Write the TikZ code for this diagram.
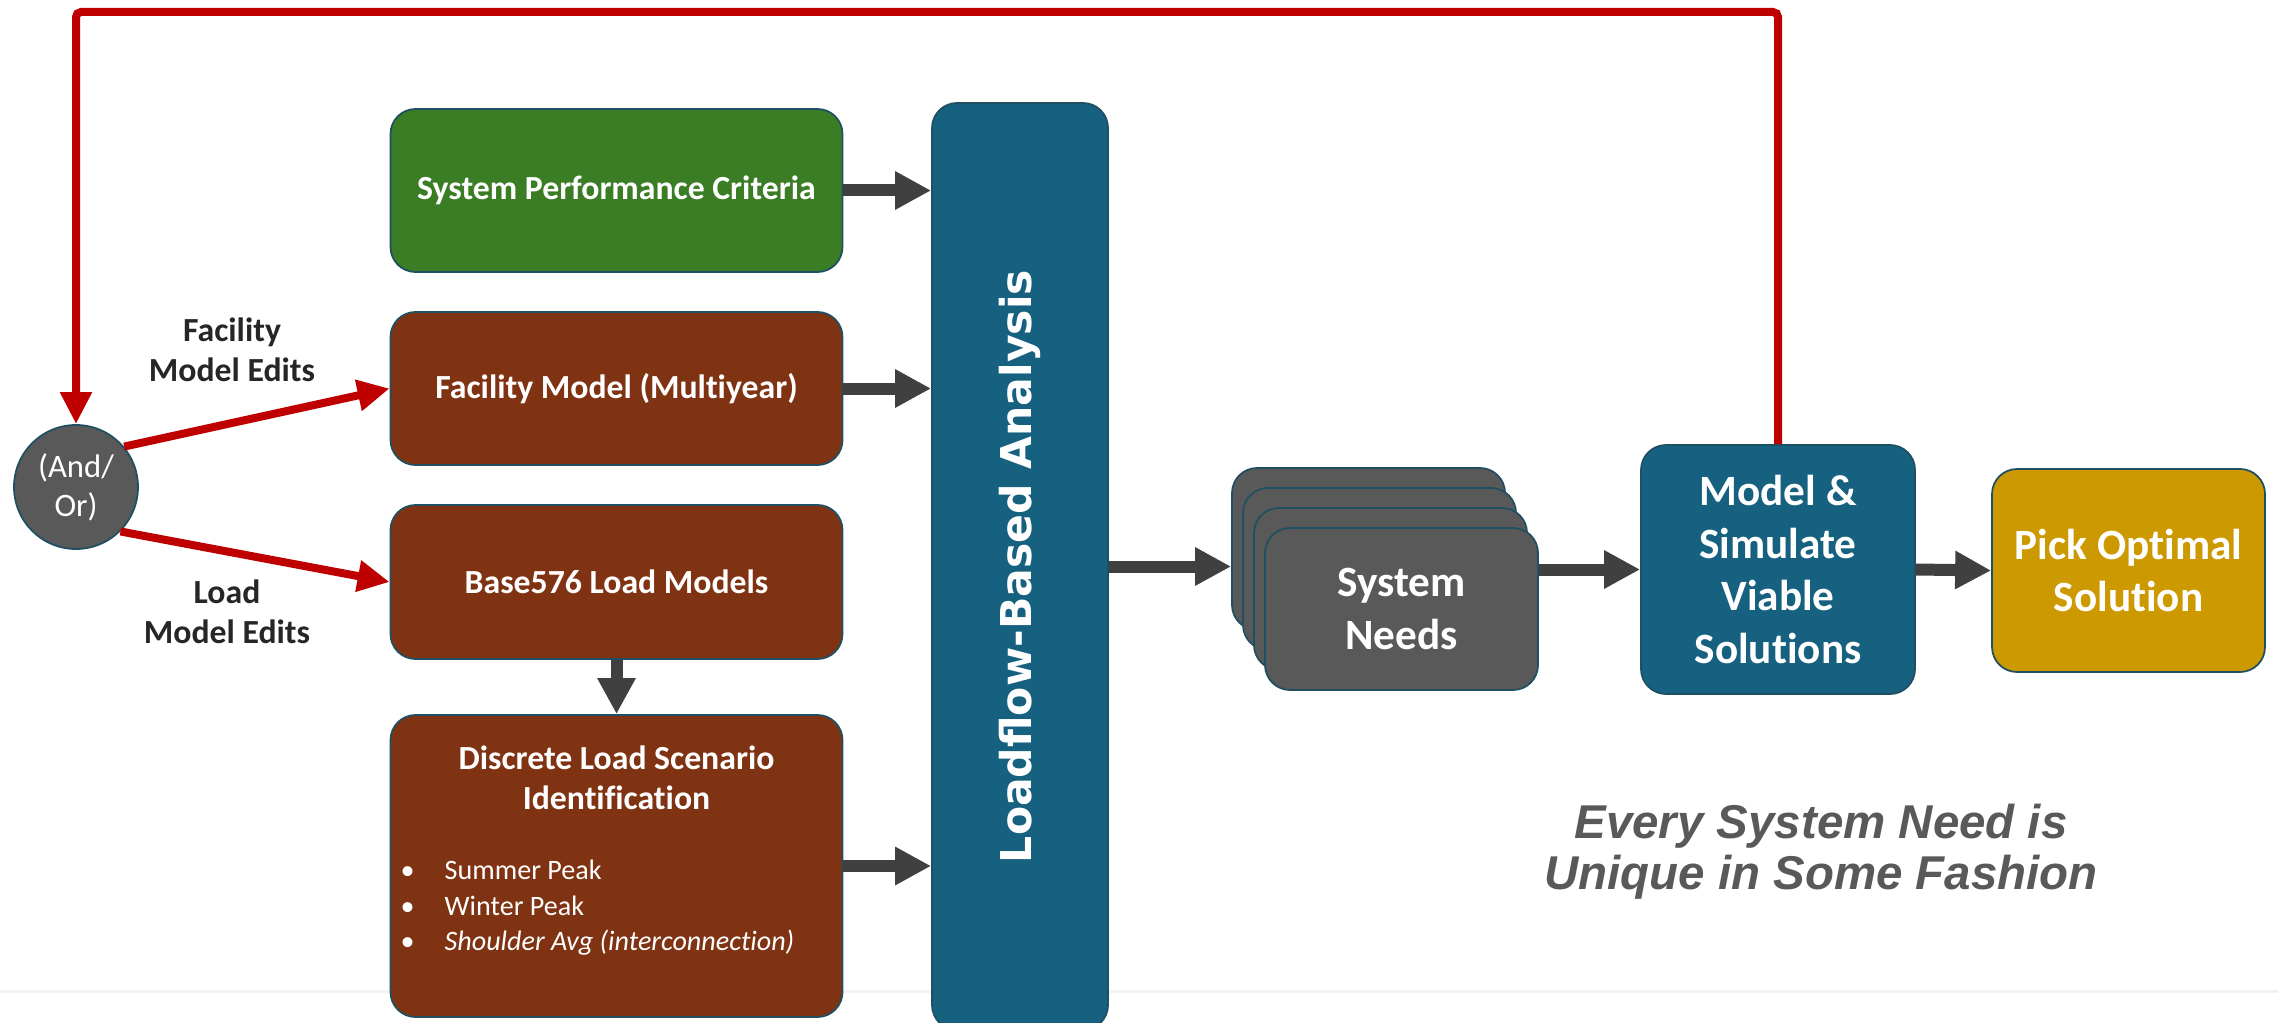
\documentclass[tikz,border=0pt]{standalone}
\usepackage{fontspec}
\setmainfont{Carlito}[Ligatures=NoCommon]
\newfontfamily\barfont{DejaVu Sans}
\newfontfamily\notefont{Liberation Sans}
\usetikzlibrary{arrows.meta}
\definecolor{mgreen}{rgb}{0.23, 0.49, 0.14}
\definecolor{mrust}{rgb}{0.50, 0.20, 0.07}
\definecolor{mteal}{rgb}{0.09, 0.38, 0.50}
\definecolor{mgold}{rgb}{0.80, 0.60, 0}
\definecolor{mslate}{rgb}{0.35, 0.35, 0.35}
\definecolor{mred}{rgb}{0.75, 0, 0}
\definecolor{mdark}{rgb}{0.25, 0.25, 0.25}
\definecolor{medge}{rgb}{0.12, 0.31, 0.39}
\definecolor{mink}{rgb}{0.15, 0.15, 0.15}
\definecolor{mfaint}{rgb}{0.95, 0.95, 0.95}
\tikzset{box/.style = {draw=medge, line width=0.5pt, rounded corners=0.25cm, inner sep=0,
                       text=white, align=center, font=\bfseries\fontsize{9.6}{11.4}\selectfont}}
\tikzset{hdr/.style = {text=white, align=center, inner sep=0, font=\bfseries\fontsize{12.3}{15}\selectfont}}
\tikzset{note/.style = {text=mink, align=center, inner sep=0, font=\bfseries\fontsize{9.6}{11.4}\selectfont}}
\tikzset{fat/.style = {draw=mdark, line width=0.12cm, -{Triangle[length=0.36cm, width=0.36cm]}}}
\tikzset{loop/.style = {draw=mred, line width=0.08cm, -{Triangle[length=0.32cm, width=0.30cm]}}}

\begin{document}
\begin{tikzpicture}
    \useasboundingbox (0, 0) rectangle (22.78, -10.22);
    \draw [mfaint, line width=0.03cm] (0, -9.91) -- (22.78, -9.91);

    \node [box, fill=mgreen, minimum width=4.52cm, minimum height=1.63cm] (crit) at (6.165, -1.905) {System Performance Criteria};
    \node [box, fill=mrust, minimum width=4.52cm, minimum height=1.53cm] (facility) at (6.165, -3.885) {Facility Model (Multiyear)};
    \node [box, fill=mrust, minimum width=4.52cm, minimum height=1.54cm] (base) at (6.165, -5.82) {Base576 Load Models};
    \node [box, fill=mrust, minimum width=4.52cm, minimum height=3.02cm] (disc) at (6.165, -8.66) {};

    \node [box] (disctitle) at (6.165, -7.78) [draw=none] {Discrete Load Scenario\\Identification};
    \node [anchor=west, inner sep=0, align=left, text=white, font=\fontsize{8}{10.1}\selectfont] (cases) at (4.0, -9.08)
      {\makebox[0.44cm][l]{\textbullet}Summer Peak\\
       \makebox[0.44cm][l]{\textbullet}Winter Peak\\
       \makebox[0.44cm][l]{\textbullet}\textit{Shoulder Avg (interconnection)}};

    \node [box, fill=mteal, minimum width=1.76cm, minimum height=9.27cm] (bar) at (10.20, -5.665) {};
    \node [rotate=90, text=white, font=\barfont\bfseries\fontsize{12.1}{14}\selectfont] (bartext) at (bar.center) {Loadflow-Based Analysis};

    \foreach \i in {0,...,3}
      \node [box, fill=mslate, minimum width=2.73cm, minimum height=1.62cm] (card\i) at (13.685 + 0.11*\i, -5.49 - 0.2*\i) {};
    \node [hdr] (needs) at (card3.center) {System\\Needs};

    \node [box, fill=mteal, minimum width=2.74cm, minimum height=2.49cm] (model) at (17.78, -5.695) {};
    \node [hdr] (modeltext) at (model.center) {Model \&\\Simulate\\Viable\\Solutions};
    \node [box, fill=mgold, minimum width=2.73cm, minimum height=2.03cm] (pick) at (21.285, -5.705) {};
    \node [hdr] (picktext) at (pick.center) {Pick Optimal\\Solution};

    \node [circle, draw=medge, line width=0.5pt, fill=mslate, minimum size=1.24cm, inner sep=0, text=white, align=center,
           font=\fontsize{9.3}{11.2}\selectfont] (andor) at (0.76, -4.87) {(And/\\Or)};
    \node [note] (fedit) at (2.32, -3.50) {Facility\\Model Edits};
    \node [note] (ledit) at (2.27, -6.115) {Load\\Model Edits};

    \node [text=mslate, align=center, inner sep=0, font=\notefont\bfseries\itshape\fontsize{13.5}{14.6}\selectfont] (slogan) at (18.21, -8.52)
      {Every System Need is\\Unique in Some Fashion};

    \draw [fat] (crit.east) -- (crit.east -| bar.west);
    \draw [fat] (facility.east) -- (facility.east -| bar.west);
    \draw [fat] (disc.east) -- (disc.east -| bar.west);
    \draw [fat] (base.south) -- (disc.north);
    \draw [fat] (bar.east) -- (bar.east -| card0.west);
    \draw [fat] (model.west -| card3.east) -- (model.west);
    \draw [fat] (model.east) -- (pick.west);

    \coordinate (turn) at (0.76, -0.12);
    \draw [loop, rounded corners=0.05cm] (model.north) |- (turn) -- (andor.north);
    \draw [loop] (andor.40) -- (facility.west);
    \draw [loop] (andor.-45) -- (base.west);
  \end{tikzpicture}
\end{document}
